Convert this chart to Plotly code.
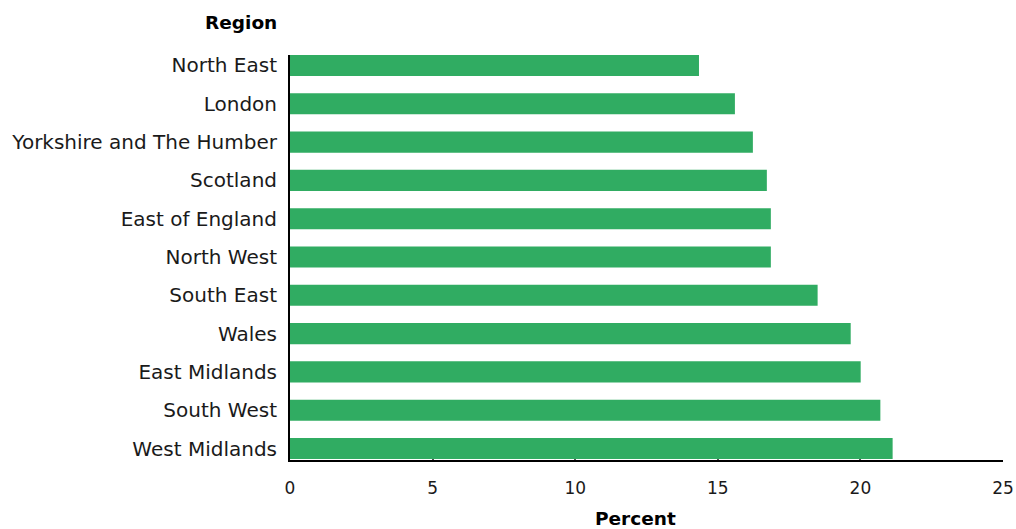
import plotly.graph_objects as go

regions = ["North East", "London", "Yorkshire and The Humber", "Scotland",
           "East of England", "North West", "South East", "Wales",
           "East Midlands", "South West", "West Midlands"]
percent = [14.34, 15.6, 16.23, 16.72, 16.86, 16.86, 18.5, 19.66, 20.01, 20.7, 21.13]
x_ticks = [0, 5, 10, 15, 20, 25]

FONT = "'DejaVu Sans', sans-serif"

fig = go.Figure(go.Bar(
    x=percent, y=regions, orientation="h",
    marker=dict(color="#30AC62", line=dict(width=0)),
    width=0.55,
))

fig.update_layout(
    width=1016, height=529,
    margin=dict(l=289.5, r=12.5, t=55, b=69),
    paper_bgcolor="white", plot_bgcolor="white",
    font=dict(family=FONT, size=19, color="#1a1a1a"),
    showlegend=False,
)
fig.update_xaxes(
    range=[0, 25], tickvals=x_ticks, ticktext=[str(v) for v in x_ticks],
    showgrid=False, zeroline=False, automargin=False,
    showline=True, linecolor="black", linewidth=2,
    ticks="inside", ticklen=12, tickcolor="#555555", tickwidth=2,
    layer="below traces",
    tickfont=dict(size=17), ticklabelstandoff=12,
)
fig.update_yaxes(
    categoryorder="array", categoryarray=regions,
    range=[10.30, -0.274], automargin=False,
    showgrid=False, zeroline=False,
    showline=True, linecolor="black", linewidth=2,
    ticks="", ticklabelstandoff=7,
    tickfont=dict(size=20),
)
fig.add_annotation(text="<b>Region</b>", xref="paper", yref="paper",
                   x=0, y=1, xanchor="right", yanchor="middle",
                   xshift=-11, yshift=33, showarrow=False,
                   font=dict(size=18.5, family=FONT, color="black"))
fig.add_annotation(text="<b>Percent</b>", xref="paper", yref="paper",
                   x=0.5, y=0, xanchor="center", yanchor="middle",
                   xshift=-11, yshift=-58, showarrow=False,
                   font=dict(size=18.5, family=FONT, color="black"))

fig.write_html(
    "out.html",
    config={"displayModeBar": False},
    post_script="document.body.style.margin='0';document.body.style.overflow='hidden';",
)
